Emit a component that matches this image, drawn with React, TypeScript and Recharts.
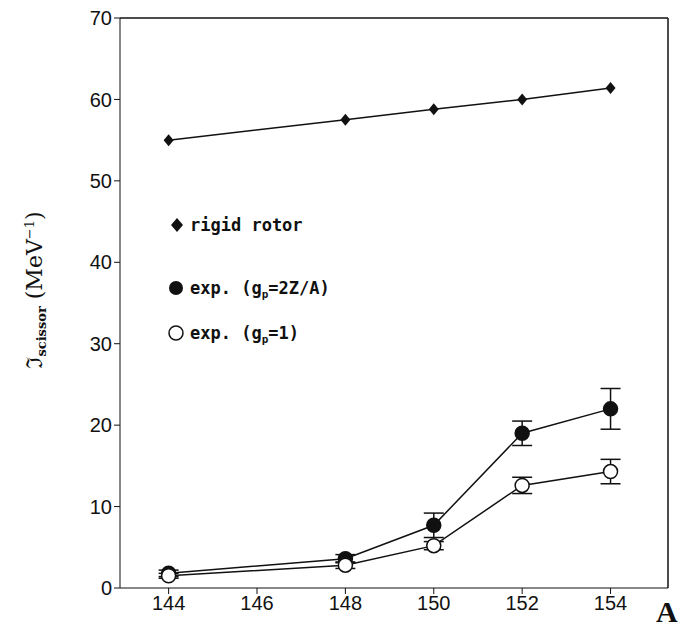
import { ComposedChart, Line, XAxis, YAxis, ErrorBar, Customized, ReferenceLine } from 'recharts';

const massNumbers = [144, 148, 150, 152, 154];
const rigidRotor = [55, 57.5, 58.8, 60, 61.4];
const expFilled = [1.8, 3.6, 7.7, 19, 22];
const expFilledErr = [0.4, 0.5, 1.5, 1.5, 2.5];
const expOpen = [1.5, 2.8, 5.2, 12.6, 14.3];
const expOpenErr = [0.3, 0.4, 0.5, 1.0, 1.5];
const xTicks = [144, 146, 148, 150, 152, 154];
const yTicks = [0, 10, 20, 30, 40, 50, 60, 70];
const xDomain = [142.9, 155.3];

const data = massNumbers.map((a, i) => ({
  a,
  rigid: rigidRotor[i],
  filled: expFilled[i],
  filledErr: expFilledErr[i],
  open: expOpen[i],
  openErr: expOpenErr[i],
}));

const Diamond = (props: any) => {
  const { cx, cy } = props;
  return <path d={`M${cx},${cy - 6} L${cx + 5},${cy} L${cx},${cy + 6} L${cx - 5},${cy} Z`} fill="#111" />;
};

const mono = '"DejaVu Sans Mono", monospace';
const sans = '"Liberation Sans", Arial, sans-serif';

const Legend = () => (
  <g fontFamily={mono} fontSize={17} fontWeight="bold" fill="#111">
    <path d="M177,218 L183,225 L177,232 L171,225 Z" fill="#111" />
    <text x={190} y={231}>rigid rotor</text>
    <circle cx={176} cy={288} r={7} fill="#111" />
    <text x={190} y={294}>exp. (g<tspan fontSize={11} dy={4}>p</tspan><tspan dy={-4}>=2Z/A)</tspan></text>
    <circle cx={176} cy={333} r={7} fill="#fff" stroke="#111" strokeWidth={1.5} />
    <text x={190} y={339}>exp. (g<tspan fontSize={11} dy={4}>p</tspan><tspan dy={-4}>=1)</tspan></text>
  </g>
);

export default function App() {
  return (
    <div style={{ position: 'absolute', left: 0, top: 0, width: 689, height: 628, background: '#fff' }}>
      <ComposedChart width={689} height={628} data={data} margin={{ top: 18, right: 21, bottom: 0, left: 80 }}>
        <XAxis dataKey="a" type="number" domain={xDomain} ticks={xTicks} height={40}
          stroke="#111" tickSize={6} tick={{ fill: '#111', fontSize: 20, fontFamily: sans }} />
        <YAxis domain={[0, 70]} ticks={yTicks} width={40} stroke="#111" tickSize={6}
          tick={{ fill: '#111', fontSize: 20, fontFamily: sans }} />
        <ReferenceLine y={70} stroke="#111" strokeWidth={1.5} />
        <ReferenceLine x={155.3} stroke="#111" strokeWidth={1.5} />
        <Line dataKey="rigid" stroke="#111" strokeWidth={1.5} dot={<Diamond />} isAnimationActive={false} />
        <Line dataKey="filled" stroke="#111" strokeWidth={1.5} dot={{ r: 7, fill: '#111', stroke: '#111' }} isAnimationActive={false}>
          <ErrorBar dataKey="filledErr" width={10} stroke="#111" strokeWidth={1.5} />
        </Line>
        <Line dataKey="open" stroke="#111" strokeWidth={1.5} dot={{ r: 7, fill: '#fff', stroke: '#111', strokeWidth: 1.5 }} isAnimationActive={false}>
          <ErrorBar dataKey="openErr" width={10} stroke="#111" strokeWidth={1.5} />
        </Line>
        <Customized component={Legend} />
        <text x={42} y={290} transform="rotate(-90 42 290)" textAnchor="middle" fontFamily="DejaVu Serif, serif" fontSize={22} fill="#111">
          ℑ<tspan fontSize={13} dy={4} fontWeight="bold">scissor</tspan><tspan dy={-4}> (MeV</tspan><tspan fontSize={13} dy={-8}>−1</tspan><tspan dy={8}>)</tspan>
        </text>
        <text x={656} y={622} fontFamily="Liberation Serif, serif" fontWeight="bold" fontSize={30} fill="#111">A</text>
      </ComposedChart>
    </div>
  );
}
